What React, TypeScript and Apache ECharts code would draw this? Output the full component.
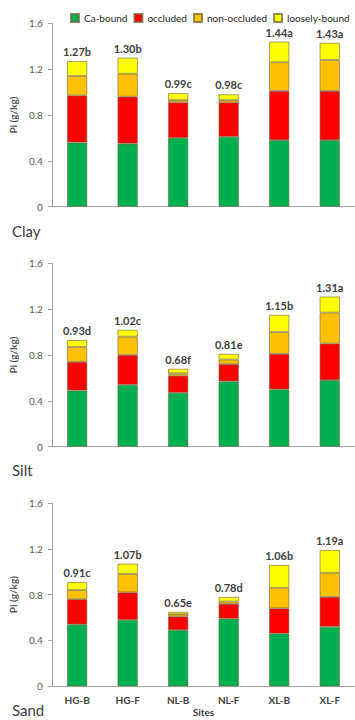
import React, { useEffect, useRef } from "react";
import * as echarts from "echarts";

const sites = ["HG-B", "HG-F", "NL-B", "NL-F", "XL-B", "XL-F"];
const seriesNames = ["Ca-bound", "occluded", "non-occluded", "loosely-bound"];
const colors = ["#00b050", "#ff0000", "#ffc000", "#ffff00"];
const panelNames = ["Clay", "Silt", "Sand"];

const clayCa = [0.56, 0.55, 0.60, 0.61, 0.58, 0.58];
const clayOcc = [0.41, 0.41, 0.31, 0.30, 0.43, 0.43];
const clayNon = [0.17, 0.20, 0.02, 0.02, 0.25, 0.27];
const clayLoose = [0.13, 0.14, 0.06, 0.05, 0.18, 0.15];
const clayLabels = ["1.27b", "1.30b", "0.99c", "0.98c", "1.44a", "1.43a"];

const siltCa = [0.49, 0.54, 0.47, 0.57, 0.50, 0.58];
const siltOcc = [0.25, 0.26, 0.15, 0.15, 0.31, 0.32];
const siltNon = [0.13, 0.16, 0.02, 0.04, 0.19, 0.27];
const siltLoose = [0.06, 0.06, 0.04, 0.05, 0.15, 0.14];
const siltLabels = ["0.93d", "1.02c", "0.68f", "0.81e", "1.15b", "1.31a"];

const sandCa = [0.54, 0.58, 0.49, 0.59, 0.46, 0.52];
const sandOcc = [0.22, 0.24, 0.12, 0.13, 0.22, 0.26];
const sandNon = [0.08, 0.16, 0.02, 0.02, 0.18, 0.21];
const sandLoose = [0.07, 0.09, 0.02, 0.04, 0.20, 0.20];
const sandLabels = ["0.91c", "1.07b", "0.65e", "0.78d", "1.06b", "1.19a"];

const yTicks = [0, 0.4, 0.8, 1.2, 1.6];

const panels = [
  { data: [clayCa, clayOcc, clayNon, clayLoose], labels: clayLabels },
  { data: [siltCa, siltOcc, siltNon, siltLoose], labels: siltLabels },
  { data: [sandCa, sandOcc, sandNon, sandLoose], labels: sandLabels },
];

const FONT = "Lato, 'Open Sans', sans-serif";

export default function App() {
  const ref = useRef<HTMLDivElement>(null);
  useEffect(() => {
    if (!ref.current) return;
    const chart = echarts.init(ref.current, undefined, { renderer: "svg" });
    const grids = [
      { top: 23.3, bottom: 513.3 },
      { top: 263.3, bottom: 273.3 },
      { top: 503, bottom: 33.7 },
    ].map((g) => ({ left: 48, right: -7, top: g.top, bottom: g.bottom, containLabel: false }));

    const xAxes = panels.map((_, i) => ({
      type: "category",
      gridIndex: i,
      data: sites,
      axisLine: { lineStyle: { color: "#a6a6a6", width: 1 } },
      axisTick: { show: false },
      axisLabel: {
        show: i === 2,
        color: "#404040",
        fontWeight: "bold",
        fontSize: 10,
        fontFamily: FONT,
        margin: 9,
      },
      name: i === 2 ? "Sites" : "",
      nameLocation: "middle",
      nameGap: 21,
      nameTextStyle: { color: "#404040", fontWeight: "bold", fontSize: 10, fontFamily: FONT },
    }));

    const yAxes = panels.map((_, i) => ({
      type: "value",
      gridIndex: i,
      min: yTicks[0],
      max: yTicks[yTicks.length - 1],
      interval: 0.4,
      splitLine: { show: false },
      axisLine: { show: true, lineStyle: { color: "#a6a6a6", width: 1 } },
      axisTick: { show: true, length: 4, lineStyle: { color: "#a6a6a6" } },
      axisLabel: { color: "#595959", fontSize: 10, fontFamily: FONT, margin: 9 },
      name: "Pi (g/kg)",
      nameLocation: "middle",
      nameRotate: 90,
      nameGap: 27,
      nameTextStyle: { color: "#595959", fontSize: 10, fontFamily: FONT, fontWeight: "bold" },
    }));

    const series: any[] = [];
    panels.forEach((p, i) => {
      p.data.forEach((arr, k) => {
        series.push({
          type: "bar",
          name: seriesNames[k],
          xAxisIndex: i,
          yAxisIndex: i,
          stack: "s" + i,
          barWidth: "40%",
          data: arr,
          itemStyle: { color: colors[k], borderColor: "rgba(110,100,60,0.75)", borderWidth: 0.8 },
          label:
            k === 3
              ? {
                  show: true,
                  position: "top",
                  distance: 4,
                  formatter: (params: any) => p.labels[params.dataIndex],
                  color: "#404040",
                  fontWeight: "bold",
                  fontSize: 11,
                  fontFamily: FONT,
                }
              : { show: false },
        });
      });
    });

    const panelY = [232.7, 471.7, 711.7];
    const graphics = panelNames.map((n, i) => ({
      type: "text",
      left: 12,
      top: panelY[i] - 9,
      style: { text: n, fill: "#404040", fontSize: 15, fontFamily: FONT },
    }));

    chart.setOption({
      animation: false,
      textStyle: { fontFamily: FONT },
      legend: {
        data: seriesNames,
        top: 8,
        left: 65,
        width: 300,
        itemWidth: 8,
        itemHeight: 8,
        itemGap: 6,
        icon: "rect",
        textStyle: { color: "#262626", fontSize: 10, fontFamily: FONT },
      },
      grid: grids,
      xAxis: xAxes,
      yAxis: yAxes,
      series,
      graphic: graphics,
    });
    return () => chart.dispose();
  }, []);
  return (
    <div
      ref={ref}
      style={{ position: "fixed", left: 0, top: 0, width: 355, height: 720, background: "#fff" }}
    />
  );
}
